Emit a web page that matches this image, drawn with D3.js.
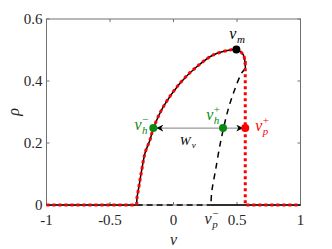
<!DOCTYPE html>
<html>
<head>
<meta charset="utf-8">
<script src="https://cdn.jsdelivr.net/npm/d3@7"></script>
<style>
  body { margin: 0; background: #fff; }
  svg { display: block; font-family: "Liberation Serif", "DejaVu Serif", serif; }
</style>
</head>
<body>
<div id="chart"></div>
<script>
// chart size
const width = 332;
const height = 249;
const margin = { top: 19, right: 31.5, bottom: 44, left: 46.5 };

// stable upper branch (nu, rho)
const upperNu  = [-0.29, -0.287, -0.277, -0.25, -0.224, -0.185, -0.159, -0.08, 0.051, 0.183, 0.313, 0.445, 0.498, 0.55, 0.563, 0.566];
const upperRho = [0, 0.025, 0.048, 0.113, 0.168, 0.21, 0.247, 0.317, 0.393, 0.446, 0.484, 0.5, 0.502, 0.484, 0.46, 0.44];

// unstable branch (dashed)
const unstableNu  = [0.566, 0.537, 0.48, 0.429, 0.374, 0.33, 0.301, 0.295];
const unstableRho = [0.44, 0.426, 0.37, 0.306, 0.21, 0.11, 0.042, 0];

// trivial state rho = 0
const zeroStableLeft = [-1, -0.29];
const zeroUnstable = [-0.29, 0.295];
const zeroStableRight = [0.295, 1];

// red dotted path: follows the jump
const jumpNu = 0.565;
const jumpTopRho = 0.46;

// marked points
const nuM = [0.495, 0.502];
const nuHminus = [-0.159, 0.248];
const nuHplus = [0.39, 0.248];
const nuPplus = [0.565, 0.248];
const nuPminus = 0.3;

// ticks
const xTicks = [-1, -0.5, 0, 0.5, 1];
const xTickLabels = ["-1", "-0.5", "0", "0.5", "1"];
const yTicks = [0, 0.2, 0.4, 0.6];
const yTickLabels = ["0", "0.2", "0.4", "0.6"];

const green = "#0b8a12";
const red = "#ff0000";

const svg = d3.select("#chart")
  .append("svg")
  .attr("width", width)
  .attr("height", height);

const x = d3.scaleLinear().domain([-1, 1]).range([margin.left, width - margin.right]);
const y = d3.scaleLinear().domain([0, 0.6]).range([height - margin.bottom, margin.top]);

const x0 = x.range()[0], x1 = x.range()[1];
const y0 = y.range()[0], y1 = y.range()[1];

// axes box with inward ticks
const axisColor = "#707070";
svg.append("rect")
  .attr("x", x0).attr("y", y1)
  .attr("width", x1 - x0).attr("height", y0 - y1)
  .attr("fill", "none").attr("stroke", axisColor).attr("stroke-width", 1);

const tickLen = 3;
xTicks.forEach(t => {
  svg.append("line").attr("x1", x(t)).attr("x2", x(t)).attr("y1", y0).attr("y2", y0 - tickLen)
    .attr("stroke", axisColor);
  svg.append("line").attr("x1", x(t)).attr("x2", x(t)).attr("y1", y1).attr("y2", y1 + tickLen)
    .attr("stroke", axisColor);
});
yTicks.forEach(t => {
  svg.append("line").attr("x1", x0).attr("x2", x0 + tickLen).attr("y1", y(t)).attr("y2", y(t))
    .attr("stroke", axisColor);
  svg.append("line").attr("x1", x1).attr("x2", x1 - tickLen).attr("y1", y(t)).attr("y2", y(t))
    .attr("stroke", axisColor);
});

svg.selectAll(".xtl")
  .data(xTicks)
  .enter().append("text")
  .attr("x", d => x(d))
  .attr("y", y0 + 20)
  .attr("text-anchor", "middle")
  .attr("font-size", 15)
  .attr("fill", "#262626")
  .text((d, i) => xTickLabels[i]);

svg.selectAll(".ytl")
  .data(yTicks)
  .enter().append("text")
  .attr("x", x0 - 4)
  .attr("y", d => y(d) + 5)
  .attr("text-anchor", "end")
  .attr("font-size", 15)
  .attr("fill", "#262626")
  .text((d, i) => yTickLabels[i]);

// axis labels
svg.append("text")
  .attr("x", x(0))
  .attr("y", 245)
  .attr("text-anchor", "middle")
  .attr("font-size", 16)
  .attr("font-style", "italic")
  .attr("fill", "#262626")
  .text("ν");

svg.append("text")
  .attr("transform", `translate(19,${(y0 + y1) / 2}) rotate(-90)`)
  .attr("text-anchor", "middle")
  .attr("font-size", 16)
  .attr("font-style", "italic")
  .attr("fill", "#262626")
  .text("ρ");

// curves
const curveLine = d3.line()
  .x(d => x(d[0]))
  .y(d => y(d[1]))
  .curve(d3.curveCatmullRom.alpha(0.5));
const straight = d3.line().x(d => x(d[0])).y(d => y(d[1]));

const upper = upperNu.map((v, i) => [v, upperRho[i]]);
const unstable = unstableNu.map((v, i) => [v, unstableRho[i]]);

// black trivial state
svg.append("path")
  .attr("d", straight(zeroStableLeft.map(v => [v, 0])))
  .attr("fill", "none").attr("stroke", "#000").attr("stroke-width", 1.5);
svg.append("path")
  .attr("d", straight(zeroUnstable.map(v => [v, 0])))
  .attr("fill", "none").attr("stroke", "#000").attr("stroke-width", 1.5)
  .attr("stroke-dasharray", "6,4");
svg.append("path")
  .attr("d", straight(zeroStableRight.map(v => [v, 0])))
  .attr("fill", "none").attr("stroke", "#000").attr("stroke-width", 1.5);

// black upper branch
svg.append("path")
  .attr("d", curveLine(upper))
  .attr("fill", "none").attr("stroke", "#000").attr("stroke-width", 1.5);
svg.append("path")
  .attr("d", curveLine(unstable))
  .attr("fill", "none").attr("stroke", "#000").attr("stroke-width", 1.5)
  .attr("stroke-dasharray", "6,5");

// red dotted path
const redUpper = upper.filter(d => d[1] >= jumpTopRho || d[0] < 0.5);
const redPath = curveLine(redUpper) +
  "L" + x(jumpNu) + "," + y(jumpTopRho) +
  "L" + x(jumpNu) + "," + y(0) +
  "L" + x(1) + "," + y(0);
svg.append("path")
  .attr("d", straight([[-1, 0], [-0.29, 0]]))
  .attr("fill", "none").attr("stroke", red).attr("stroke-width", 3)
  .attr("stroke-dasharray", "3,3");
svg.append("path")
  .attr("d", redPath)
  .attr("fill", "none").attr("stroke", red).attr("stroke-width", 3)
  .attr("stroke-dasharray", "3,3");

// arrow W_nu
const defs = svg.append("defs");
defs.append("marker")
  .attr("id", "head")
  .attr("viewBox", "0 0 10 10")
  .attr("refX", 10).attr("refY", 5)
  .attr("markerWidth", 7).attr("markerHeight", 7)
  .attr("markerUnits", "userSpaceOnUse")
  .attr("orient", "auto-start-reverse")
  .append("path")
  .attr("d", "M0,0 L10,5 L0,10 L3,5 Z")
  .attr("fill", "#000");

svg.append("line")
  .attr("x1", x(nuHminus[0]) + 3).attr("y1", y(nuHminus[1]))
  .attr("x2", x(nuPplus[0]) - 2).attr("y2", y(nuPplus[1]))
  .attr("stroke", "#808080").attr("stroke-width", 1)
  .attr("marker-start", "url(#head)")
  .attr("marker-end", "url(#head)");

// points
svg.append("circle").attr("cx", x(nuM[0])).attr("cy", y(nuM[1])).attr("r", 4).attr("fill", "#000");
svg.append("circle").attr("cx", x(nuHminus[0])).attr("cy", y(nuHminus[1])).attr("r", 4).attr("fill", green);
svg.append("circle").attr("cx", x(nuHplus[0])).attr("cy", y(nuHplus[1])).attr("r", 4).attr("fill", green);
svg.append("circle").attr("cx", x(nuPplus[0])).attr("cy", y(nuPplus[1])).attr("r", 4).attr("fill", red);

// labels with sub/superscripts
function nuLabel(px, py, sub, sup, color, anchorRight) {
  const g = svg.append("g").attr("fill", color).attr("font-style", "italic");
  const main = g.append("text").attr("x", 0).attr("y", 0).attr("font-size", 16).text("ν");
  const w = main.node().getComputedTextLength();
  if (sub) g.append("text").attr("x", w + 0.5).attr("y", 4).attr("font-size", 11).text(sub);
  if (sup) g.append("text").attr("x", w + 0.5).attr("y", -7).attr("font-size", 11)
    .attr("font-style", "normal").text(sup);
  const bw = g.node().getBBox().width;
  g.attr("transform", `translate(${anchorRight ? px - bw : px},${py})`);
  return g;
}

nuLabel(x(nuM[0]) - 7, y(nuM[1]) - 10, "m", null, "#000", false);
nuLabel(x(nuHminus[0]) - 5, y(nuHminus[1]) + 2, "h", "−", green, true);
nuLabel(x(nuHplus[0]) - 3, y(nuHplus[1]) - 8, "h", "+", green, true);
nuLabel(x(nuPplus[0]) + 10, y(nuPplus[1]) + 3, "p", "+", red, false);
nuLabel(x(nuPminus) - 7, y0 + 19, "p", "−", "#262626", false);

// W_nu
const wl = svg.append("g").attr("font-style", "italic").attr("fill", "#000")
  .attr("transform", `translate(${x(0.05)},${y(0.248) + 17})`);
wl.append("text").attr("font-size", 13).text("W");
wl.append("text").attr("x", 12).attr("y", 3).attr("font-size", 9).text("ν");
</script>
</body>
</html>
